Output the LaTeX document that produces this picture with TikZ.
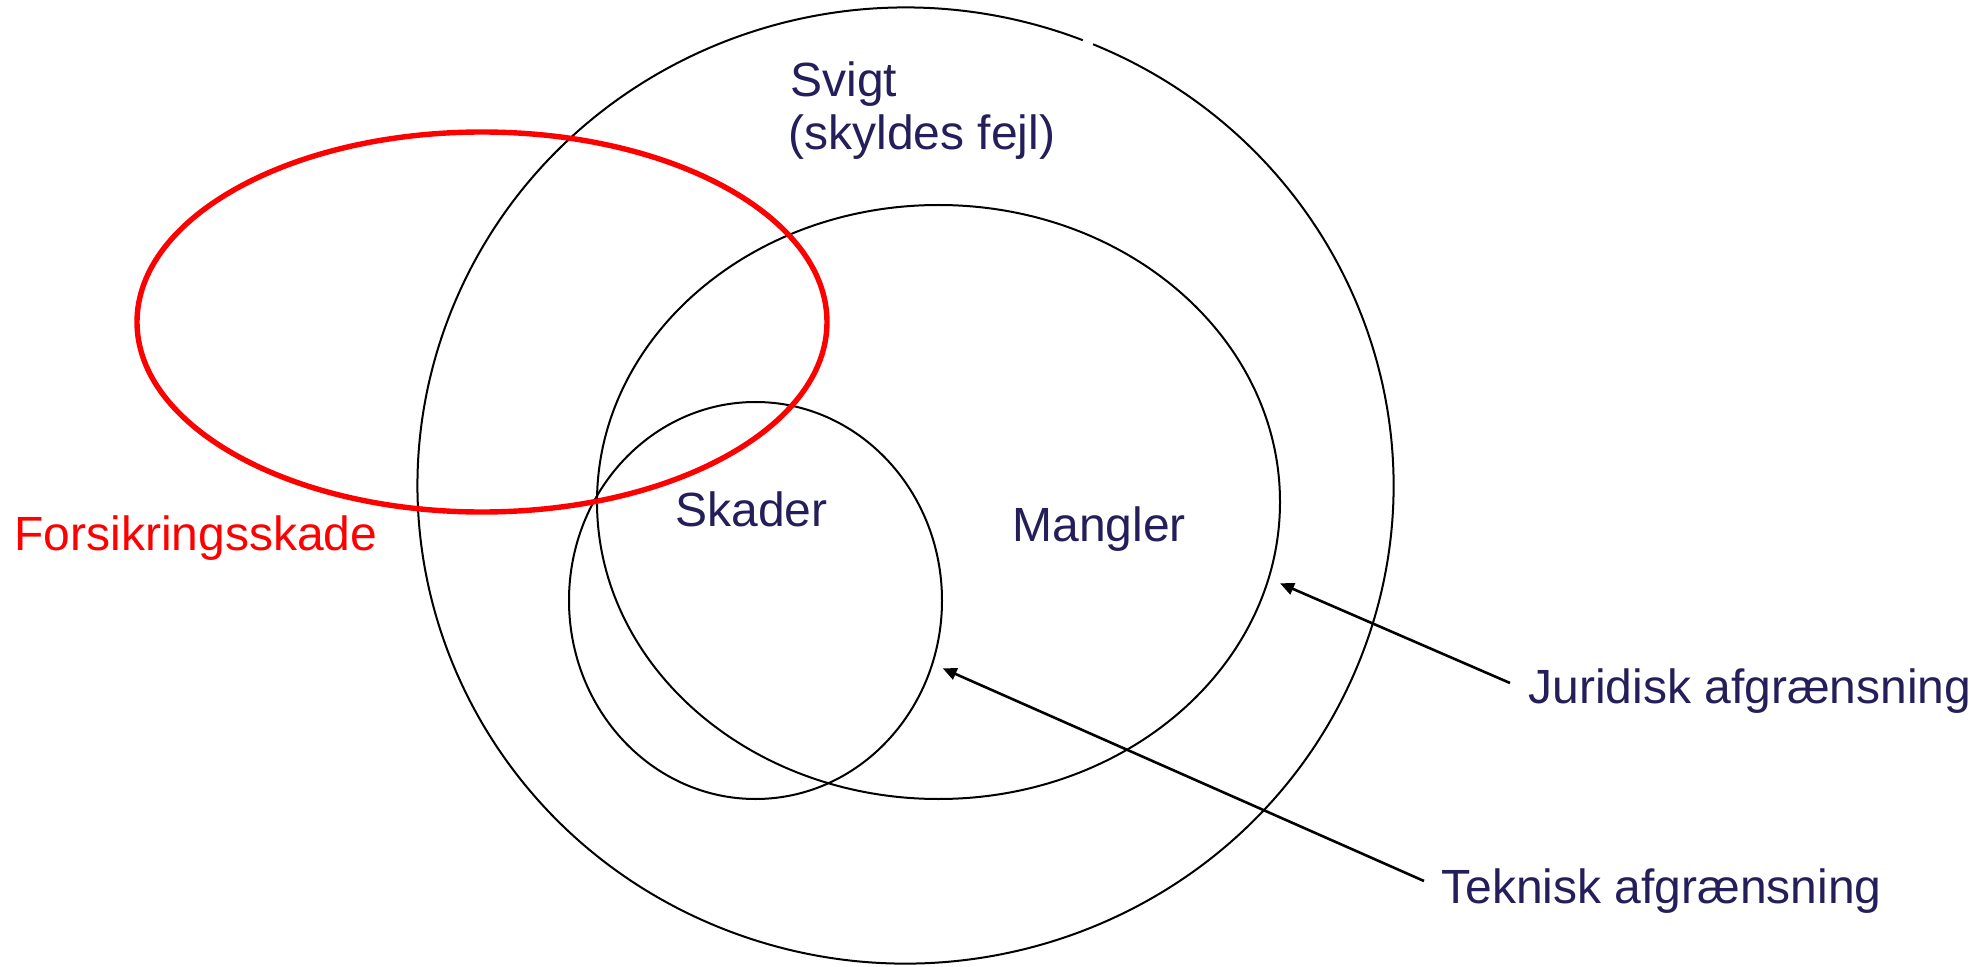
\documentclass[tikz,border=0pt]{standalone}
\usepackage{fontspec}
\setmainfont{Liberation Sans}
\usetikzlibrary{arrows.meta}
\definecolor{navy}{RGB}{36,30,90}
\definecolor{redline}{RGB}{255,0,0}
\begin{document}
\begin{tikzpicture}[x=0.5pt,y=0.5pt,
  ring/.style={draw=black,line width=1pt},
  redring/.style={draw=redline,line width=2.7pt},
  lbl/.style={anchor=base west,inner sep=0pt,text=navy,font=\fontsize{24pt}{29pt}\selectfont},
  redlbl/.style={lbl,text=redline},
  pointer/.style={draw=black,line width=1.3pt,-{Triangle[length=7pt,width=6pt]}}]
\useasboundingbox (0,0) rectangle (1983,966);
% outer circle (Svigt) with small gap at top
\draw[ring] (1082.8,925.8) arc[start angle=68.7,end angle=427.4,x radius=488,y radius=478];
% Mangler ellipse
\draw[ring] (938.5,464) ellipse[x radius=341.5,y radius=297];
% Skader circle
\draw[ring] (755.5,365.5) ellipse[x radius=186.5,y radius=198.5];
% Forsikringsskade ellipse
\draw[redring] (482,644) ellipse[x radius=345,y radius=190];
% labels
\node[lbl] (svigt) at (790,869.3) {Svigt};
\node[lbl] (skyld) at (788,816) {(skyldes fejl)};
\node[redlbl] (fors) at (14,416) {Forsikringsskade};
\node[lbl] (skader) at (675,439.3) {Skader};
\node[lbl] (mangler) at (1012,425) {Mangler};
\node[lbl] (jur) at (1528,262.7) {Juridisk afgrænsning};
\node[lbl] (tek) at (1441,62.7) {Teknisk afgrænsning};
% pointers
\coordinate (jstart) at (1510,283);
\coordinate (jtip) at (1280,382.7);
\coordinate (tstart) at (1424,85);
\coordinate (ttip) at (942.7,297.7);
\draw[pointer] (jstart) -- (jtip);
\draw[pointer] (tstart) -- (ttip);
\end{tikzpicture}
\end{document}
